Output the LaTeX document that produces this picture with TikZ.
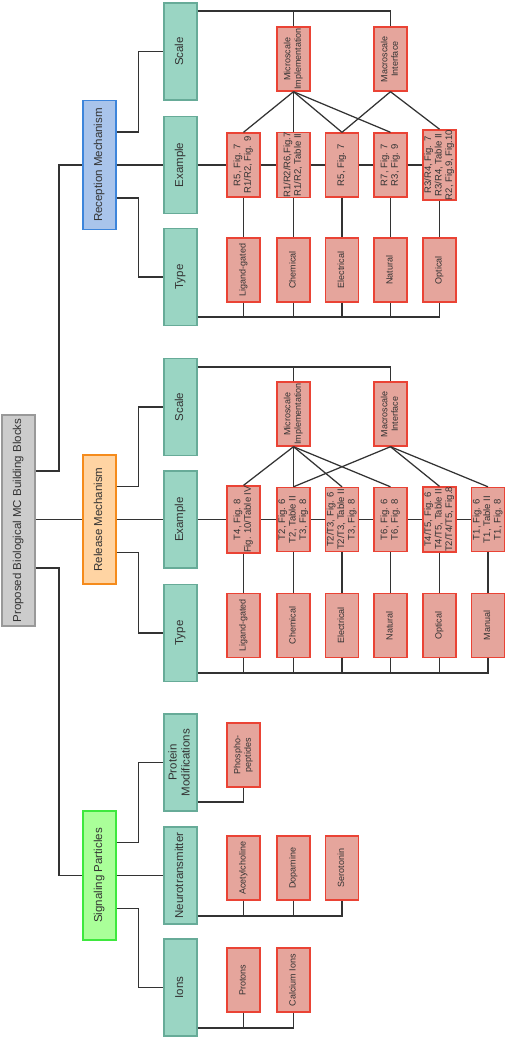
\documentclass[tikz,border=0pt]{standalone}
\usepackage{fontspec}
\setmainfont{Liberation Sans}
\usepackage{graphicx}
\usepackage{tikz}
\usetikzlibrary{calc}
\definecolor{trazo}{HTML}{333333}
\definecolor{grisfondo}{HTML}{CCCCCC}
\definecolor{grisborde}{HTML}{999999}
\definecolor{azulfondo}{HTML}{A9C4EB}
\definecolor{azulborde}{HTML}{3D85DB}
\definecolor{naranjafondo}{HTML}{FFD4A3}
\definecolor{naranjaborde}{HTML}{F58B1C}
\definecolor{verdefondo}{HTML}{AAFF99}
\definecolor{verdeborde}{HTML}{3EE83E}
\definecolor{mentafondo}{HTML}{9AD5C3}
\definecolor{mentaborde}{HTML}{67AB98}
\definecolor{rojofondo}{HTML}{E5A59C}
\definecolor{rojoborde}{HTML}{EA4335}
\newcommand{\vtexto}[1]{\rotatebox{90}{\begin{tabular}{@{}c@{}}#1\end{tabular}}}

\begin{document}
\begin{tikzpicture}[
  x=1pt, y=-1pt,
  caja/.style={draw, line width=1.2pt, inner sep=0pt, text=trazo, minimum width=33pt},
  raiz/.style={caja, fill=grisfondo, draw=grisborde, minimum height=211pt, font=\fontsize{11.5}{13}\selectfont},
  rama/.style={caja, minimum height=129pt, font=\fontsize{11.5}{13}\selectfont},
  cat/.style={caja, fill=mentafondo, draw=mentaborde, minimum height=97pt, font=\fontsize{11.5}{13}\selectfont},
  hoja/.style={caja, fill=rojofondo, draw=rojoborde, line width=1.4pt, minimum height=64pt, font=\fontsize{9}{10.5}\selectfont},
  ejemplo/.style={hoja, font=\fontsize{9.5}{10.5}\selectfont},
  linea/.style={trazo, line width=1.25pt}
]
\useasboundingbox (0,0) rectangle (506,1039);

\node[raiz] (raiz) at (18.5,520.5) {\vtexto{Proposed Biological MC Building Blocks}};
\node[rama, fill=azulfondo, draw=azulborde] (recep) at (99.5,165) {\vtexto{Reception Mechanism}};
\node[rama, fill=naranjafondo, draw=naranjaborde] (liber) at (99.5,519.5) {\vtexto{Release Mechanism}};
\node[rama, fill=verdefondo, draw=verdeborde] (senal) at (99.5,875.5) {\vtexto{Signaling Particles}};

\node[cat] (recEsc) at (180.5,51.5) {\vtexto{Scale}};
\node[cat] (recEj) at (180.5,165) {\vtexto{Example}};
\node[cat] (recTipo) at (180.5,277) {\vtexto{Type}};
\node[cat] (libEsc) at (180.5,407) {\vtexto{Scale}};
\node[cat] (libEj) at (180.5,519.5) {\vtexto{Example}};
\node[cat] (libTipo) at (180.5,633) {\vtexto{Type}};
\node[cat] (senProt) at (180.5,762.5) {\vtexto{Protein\\Modifications}};
\node[cat] (senNeuro) at (180.5,875.5) {\vtexto{Neurotransmitter}};
\node[cat] (senIon) at (180.5,987.5) {\vtexto{Ions}};

\node[hoja] (recMicro) at (293.5,59) {\vtexto{Microscale\\Implementation}};
\node[hoja] (recMacro) at (390.5,59) {\vtexto{Macroscale\\Interface}};
\node[ejemplo] (rx1) at (243.5,165) {\vtexto{R5, Fig. 7\\R1/R2, Fig. 9}};
\node[ejemplo] (rx2) at (293.5,165) {\vtexto{R1/R2/R6,Fig.7\\R1/R2, Table II}};
\node[ejemplo] (rx3) at (342,165) {\vtexto{R5, Fig. 7}};
\node[ejemplo] (rx4) at (390.5,165) {\vtexto{R7, Fig. 7\\R3, Fig. 9}};
\node[ejemplo] (rx5) at (439.5,165) {\vtexto{R3/R4, Fig. 7\\R3/R4, Table II\\R2, Fig.9, Fig.10}};
\node[hoja] (rt1) at (243.5,270) {\vtexto{Ligand-gated}};
\node[hoja] (rt2) at (293.5,270) {\vtexto{Chemical}};
\node[hoja] (rt3) at (342,270) {\vtexto{Electrical}};
\node[hoja] (rt4) at (390.5,270) {\vtexto{Natural}};
\node[hoja] (rt5) at (439.5,270) {\vtexto{Optical}};

\node[hoja] (libMicro) at (293.5,414) {\vtexto{Microscale\\Implementation}};
\node[hoja] (libMacro) at (390.5,414) {\vtexto{Macroscale\\Interface}};
\node[ejemplo] (lx1) at (243.5,519.5) {\vtexto{T4, Fig. 8\\Fig. 10/Table IV}};
\node[ejemplo] (lx2) at (293.5,519.5) {\vtexto{T2, Fig. 6\\T2, Table II\\T3, Fig. 8}};
\node[ejemplo] (lx3) at (342,519.5) {\vtexto{T2/T3, Fig. 6\\T2/T3, Table II\\T3, Fig. 8}};
\node[ejemplo] (lx4) at (390.5,519.5) {\vtexto{T6, Fig. 6\\T6, Fig. 8}};
\node[ejemplo] (lx5) at (439.5,519.5) {\vtexto{T4/T5, Fig. 6\\T4/T5, Table II\\T2/T4/T5, Fig.8}};
\node[ejemplo] (lx6) at (488,519.5) {\vtexto{T1, Fig. 6\\T1, Table II\\T1, Fig. 8}};
\node[hoja] (lt1) at (243.5,625.5) {\vtexto{Ligand-gated}};
\node[hoja] (lt2) at (293.5,625.5) {\vtexto{Chemical}};
\node[hoja] (lt3) at (342,625.5) {\vtexto{Electrical}};
\node[hoja] (lt4) at (390.5,625.5) {\vtexto{Natural}};
\node[hoja] (lt5) at (439.5,625.5) {\vtexto{Optical}};
\node[hoja] (lt6) at (488,625.5) {\vtexto{Manual}};

\node[hoja] (fosfo) at (243.5,755) {\vtexto{Phospho-\\peptides}};
\node[hoja] (ace) at (243.5,868) {\vtexto{Acetylcholine}};
\node[hoja] (dopa) at (293.5,868) {\vtexto{Dopamine}};
\node[hoja] (sero) at (342,868) {\vtexto{Serotonin}};
\node[hoja] (proto) at (243.5,980) {\vtexto{Protons}};
\node[hoja] (calcio) at (293.5,980) {\vtexto{Calcium Ions}};

\draw[linea] (raiz.east |- 0,471) -- (59,471) |- (recep.west);
\draw[linea] (raiz.east |- liber) -- (liber.west);
\draw[linea] (raiz.east |- 0,568) -- (59,568) |- (senal.west);

\foreach \r/\e/\j/\t in {recep/recEsc/recEj/recTipo, liber/libEsc/libEj/libTipo, senal/senProt/senNeuro/senIon} {
  \draw[linea] ([yshift=33pt]\r.east) -- ++(22,0) |- (\e.west);
  \draw[linea] (\r.east) -- (\j.west);
  \draw[linea] ([yshift=-33pt]\r.east) -- ++(22,0) |- (\t.west);
}

\draw[linea] (recEsc.east |- 0,11) -| (recMacro.north);
\draw[linea] (recMicro.north) -- (recMicro.north |- 0,11);
\foreach \i in {1,...,4} \draw[linea] (recMicro.south) -- (rx\i.north);
\foreach \i in {3,5} \draw[linea] (recMacro.south) -- (rx\i.north);
\draw[linea] (recEj) -- (rx1) -- (rx2) -- (rx3) -- (rx4) -- (rx5);
\foreach \i in {1,...,5} \draw[linea] (rx\i) -- (rt\i);
\draw[linea] (recTipo.east |- 0,317) -| (rt5.south);
\foreach \i in {1,...,4} \draw[linea] (rt\i.south) -- (rt\i.south |- 0,317);

\draw[linea] (libEsc.east |- 0,367) -| (libMacro.north);
\draw[linea] (libMicro.north) -- (libMicro.north |- 0,367);
\foreach \i in {1,...,4} \draw[linea] (libMicro.south) -- (lx\i.north);
\foreach \i in {2,5,6} \draw[linea] (libMacro.south) -- (lx\i.north);
\draw[linea] (libEj) -- (lx1) -- (lx2) -- (lx3) -- (lx4) -- (lx5) -- (lx6);
\foreach \i in {1,...,6} \draw[linea] (lx\i) -- (lt\i);
\draw[linea] (libTipo.east |- 0,673) -| (lt6.south);
\foreach \i in {1,...,5} \draw[linea] (lt\i.south) -- (lt\i.south |- 0,673);

\draw[linea] (senProt.east |- 0,802) -| (fosfo.south);
\draw[linea] (senNeuro.east |- 0,916) -| (sero.south);
\foreach \n in {ace,dopa} \draw[linea] (\n.south) -- (\n.south |- 0,916);
\draw[linea] (senIon.east |- 0,1028) -| (calcio.south);
\draw[linea] (proto.south) -- (proto.south |- 0,1028);
\end{tikzpicture}
\end{document}
